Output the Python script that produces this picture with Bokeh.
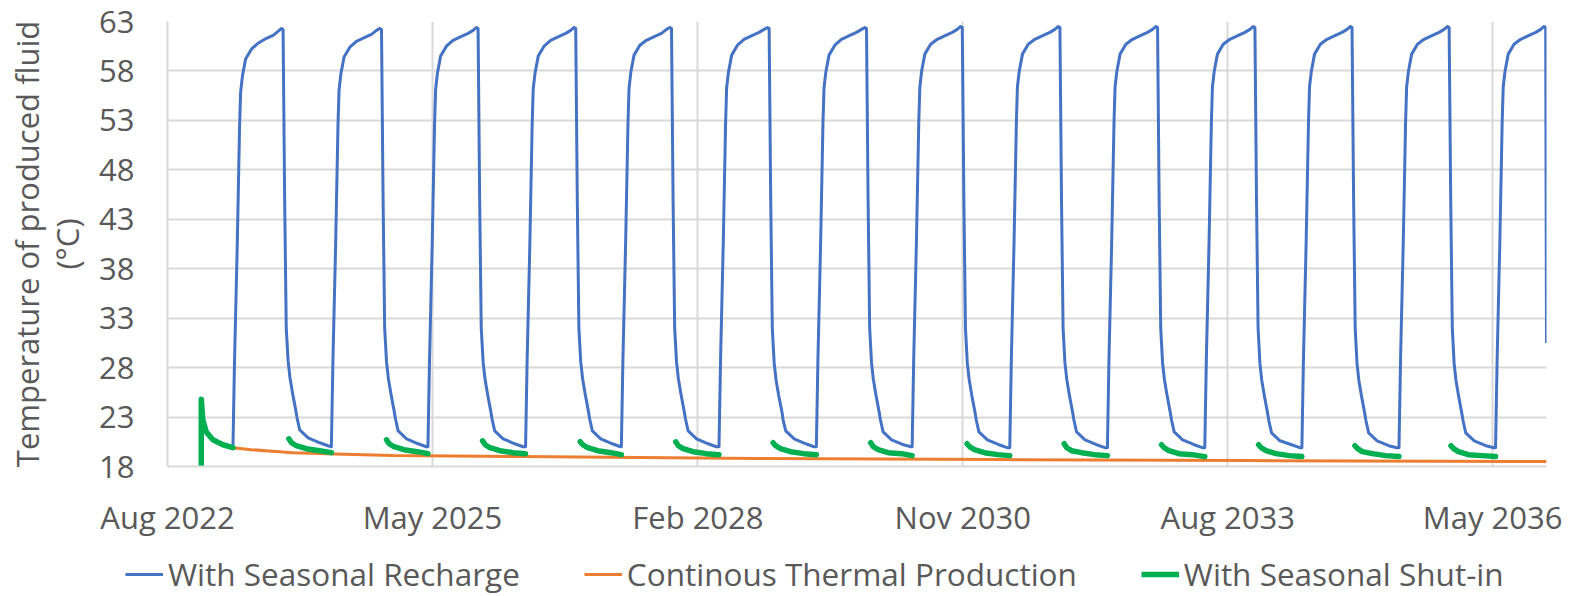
import datetime as dt
from bokeh.plotting import figure
from bokeh.layouts import column, row
from bokeh.models import Range1d, FixedTicker, Legend, LegendItem, DatetimeTickFormatter
from bokeh.embed import file_html
from bokeh.resources import INLINE

# ---------------- data ----------------
x_tick_dates = ["2022-08-01", "2025-05-01", "2028-02-01", "2030-11-01", "2033-08-01", "2036-05-01"]
x_tick_labels = ["Aug 2022", "May 2025", "Feb 2028", "Nov 2030", "Aug 2033", "May 2036"]
y_ticks = [18, 23, 28, 33, 38, 43, 48, 53, 58, 63]
x_start_date = "2022-08-01"

series_names = ["With Seasonal Recharge", "Continous Thermal Production", "With Seasonal Shut-in"]

# With Seasonal Recharge: start date of each recharge (heating) cycle
recharge_start_dates = ["2023-04-06", "2024-04-13", "2025-04-14", "2026-04-19", "2027-04-17",
                        "2028-04-21", "2029-04-25", "2030-04-23", "2031-04-28", "2032-05-02",
                        "2033-05-06", "2034-05-09", "2035-05-12", "2036-05-12"]
# days after each cycle start at which the values below were read
cycle_day_offsets = [0, 6, 16, 25, 29, 36, 48, 70, 95, 127, 152, 171, 184, 190,
                     196, 202, 209, 216, 226, 238, 243, 253, 285, 329, 360]
recharge_cycle_values = [
    [19.9, 28.7, 40.0, 52.2, 55.8, 57.5, 59.2, 60.2, 60.8, 61.3, 61.6, 62.0, 62.3, 62.2, 45.0, 32.0, 28.7, 27.0, 25.4, 23.7, 22.9, 21.7, 20.9, 20.4, 20.1],
    [20.0, 28.8, 40.2, 52.4, 56.0, 57.7, 59.4, 60.4, 61.0, 61.4, 61.7, 62.1, 62.3, 62.2, 45.0, 32.0, 28.6, 26.9, 25.3, 23.6, 22.8, 21.6, 20.8, 20.3, 20.0],
    [20.0, 28.8, 40.3, 52.5, 56.1, 57.8, 59.5, 60.5, 61.1, 61.5, 61.8, 62.1, 62.4, 62.3, 45.0, 32.0, 28.6, 26.9, 25.3, 23.6, 22.8, 21.6, 20.8, 20.3, 20.0],
    [20.0, 28.9, 40.3, 52.6, 56.2, 57.8, 59.5, 60.5, 61.1, 61.5, 61.8, 62.1, 62.4, 62.3, 45.0, 32.0, 28.6, 26.9, 25.3, 23.6, 22.8, 21.6, 20.8, 20.3, 20.0],
    [20.0, 28.9, 40.4, 52.6, 56.2, 57.9, 59.6, 60.6, 61.1, 61.5, 61.8, 62.2, 62.4, 62.3, 45.0, 32.0, 28.6, 26.9, 25.3, 23.6, 22.8, 21.6, 20.8, 20.3, 20.0],
    [20.0, 28.9, 40.4, 52.7, 56.3, 57.9, 59.6, 60.6, 61.2, 61.6, 61.9, 62.2, 62.4, 62.3, 45.0, 32.0, 28.5, 26.8, 25.2, 23.6, 22.7, 21.6, 20.8, 20.3, 20.0],
    [20.0, 28.9, 40.4, 52.7, 56.3, 57.9, 59.6, 60.6, 61.2, 61.6, 61.9, 62.2, 62.4, 62.3, 45.0, 32.0, 28.5, 26.8, 25.2, 23.5, 22.7, 21.5, 20.7, 20.2, 20.0],
    [20.0, 29.0, 40.5, 52.7, 56.3, 58.0, 59.7, 60.7, 61.2, 61.6, 61.9, 62.2, 62.5, 62.4, 45.0, 32.0, 28.5, 26.8, 25.2, 23.5, 22.7, 21.5, 20.7, 20.2, 19.9],
    [19.9, 29.0, 40.5, 52.8, 56.4, 58.0, 59.7, 60.7, 61.2, 61.6, 61.9, 62.2, 62.5, 62.4, 45.0, 32.0, 28.5, 26.8, 25.2, 23.5, 22.7, 21.5, 20.7, 20.2, 19.9],
    [19.9, 29.0, 40.5, 52.8, 56.4, 58.0, 59.7, 60.7, 61.2, 61.6, 61.9, 62.2, 62.5, 62.4, 45.0, 32.0, 28.5, 26.8, 25.2, 23.5, 22.7, 21.5, 20.7, 20.2, 19.9],
    [19.9, 29.0, 40.5, 52.8, 56.4, 58.0, 59.7, 60.7, 61.2, 61.6, 61.9, 62.2, 62.5, 62.4, 45.0, 32.0, 28.4, 26.7, 25.1, 23.4, 22.6, 21.4, 20.6, 20.2, 19.9],
    [19.9, 29.0, 40.5, 52.8, 56.4, 58.0, 59.7, 60.7, 61.2, 61.6, 61.9, 62.2, 62.5, 62.4, 45.0, 32.0, 28.4, 26.7, 25.1, 23.4, 22.6, 21.4, 20.6, 20.1, 19.9],
    [19.9, 29.0, 40.5, 52.8, 56.4, 58.0, 59.7, 60.7, 61.2, 61.6, 61.9, 62.2, 62.5, 62.4, 45.0, 32.0, 28.4, 26.7, 25.1, 23.4, 22.6, 21.4, 20.6, 20.1, 19.9],
    [19.9, 29.0, 40.5, 52.8, 56.4, 58.0, 59.7, 60.7, 61.2, 61.6, 61.9, 62.2, 62.5, 62.4],
]
recharge_end_date = "2036-11-21"
recharge_end_value = 30.5

# Continous Thermal Production
continuous_dates = ["2022-12-07", "2022-12-07", "2022-12-13", "2022-12-26", "2023-01-20", "2023-02-27",
                    "2023-04-06", "2023-06-15", "2023-09-01", "2023-11-19", "2024-06-01", "2024-12-02",
                    "2026-03-27", "2028-09-21", "2031-03-21", "2033-10-24", "2036-11-21"]
continuous_values = [18.0, 24.8, 22.7, 21.5, 20.7, 20.2,
                     19.9, 19.7, 19.55, 19.4, 19.25, 19.1,
                     19.0, 18.8, 18.7, 18.6, 18.5]

# With Seasonal Shut-in: first production period
shutin_first_dates = ["2022-12-07", "2022-12-07", "2022-12-13", "2022-12-26", "2023-01-20", "2023-02-27", "2023-04-06"]
shutin_first_values = [18.0, 24.8, 22.7, 21.5, 20.7, 20.2, 19.9]
# later production periods: restart (days after each recharge cycle start), read points, end at next cycle start
shutin_restart_offsets = [212, 209, 207, 207, 206, 205, 206, 208, 206, 205, 204, 201, 197]
shutin_point_offsets = [0, 10, 28, 66, 116]
shutin_segment_values = [
    [20.8, 20.4, 20.1, 19.8, 19.6, 19.4],
    [20.7, 20.3, 20.0, 19.7, 19.5, 19.3],
    [20.6, 20.2, 19.9, 19.6, 19.4, 19.3],
    [20.5, 20.2, 19.9, 19.6, 19.4, 19.2],
    [20.5, 20.1, 19.8, 19.5, 19.3, 19.2],
    [20.4, 20.1, 19.8, 19.5, 19.3, 19.2],
    [20.4, 20.0, 19.7, 19.4, 19.3, 19.1],
    [20.3, 20.0, 19.7, 19.4, 19.2, 19.1],
    [20.3, 19.9, 19.6, 19.4, 19.2, 19.1],
    [20.2, 19.9, 19.6, 19.3, 19.2, 19.0],
    [20.2, 19.9, 19.6, 19.3, 19.1, 19.0],
    [20.1, 19.8, 19.5, 19.3, 19.1, 19.0],
    [20.1, 19.8, 19.5, 19.2, 19.1, 19.0],
]

colors = ["#4472C4", "#ED7D31", "#00B050"]
line_widths = [3, 3, 5.5]

# ---------------- build ----------------
EPOCH = dt.datetime(1970, 1, 1)


def d(s):
    return dt.datetime.strptime(s, "%Y-%m-%d")


def ms(t):
    return int((t - EPOCH).total_seconds() * 1000)


blue_x, blue_y = [], []
for start, vals in zip(recharge_start_dates, recharge_cycle_values):
    s = d(start)
    for off, v in zip(cycle_day_offsets, vals):
        blue_x.append(s + dt.timedelta(days=off))
        blue_y.append(v)
blue_x.append(d(recharge_end_date))
blue_y.append(recharge_end_value)

orange_x = [d(s) for s in continuous_dates]
orange_y = continuous_values

green_xs = [[d(s) for s in shutin_first_dates]]
green_ys = [shutin_first_values]
for k, vals in enumerate(shutin_segment_values):
    s = d(recharge_start_dates[k]) + dt.timedelta(days=shutin_restart_offsets[k])
    xs = [s + dt.timedelta(days=o) for o in shutin_point_offsets] + [d(recharge_start_dates[k + 1])]
    green_xs.append(xs)
    green_ys.append(vals)

FONT = "Open Sans"
TXT = "#595959"
GRID = "#D9D9D9"

# ---- main chart ----
p = figure(width=1569, height=540, output_backend="svg", toolbar_location=None,
           x_axis_type="datetime",
           x_range=Range1d(d(x_start_date), d(recharge_end_date)),
           y_range=Range1d(y_ticks[0], y_ticks[-1]),
           min_border_left=167, min_border_right=23, min_border_top=21, min_border_bottom=68)
p.outline_line_color = None
p.background_fill_color = "white"
p.border_fill_color = "white"

tick_ms = [ms(d(s)) for s in x_tick_dates]
p.xaxis.ticker = FixedTicker(ticks=tick_ms)
p.xaxis.formatter = DatetimeTickFormatter(days="%b %Y", months="%b %Y", years="%b %Y")
p.xaxis.major_label_overrides = {t: lab for t, lab in zip(tick_ms, x_tick_labels)}
p.yaxis.ticker = FixedTicker(ticks=y_ticks)

for ax in (p.xaxis[0], p.yaxis[0]):
    ax.axis_line_color = GRID
    ax.axis_line_width = 2
    ax.major_tick_line_color = None
    ax.minor_tick_line_color = None
    ax.major_label_text_font = FONT
    ax.major_label_text_font_size = "31px"
    ax.major_label_text_color = TXT
p.xaxis.major_label_standoff = 23
p.yaxis.major_label_standoff = 27

p.yaxis.axis_label = "Temperature of produced fluid\n(°C)"
p.yaxis.axis_label_text_font = FONT
p.yaxis.axis_label_text_font_size = "31px"
p.yaxis.axis_label_text_font_style = "normal"
p.yaxis.axis_label_text_color = TXT
p.yaxis.axis_label_text_line_height = 0.95
p.yaxis.axis_label_standoff = 8

p.xgrid.grid_line_color = GRID
p.xgrid.grid_line_width = 2
p.ygrid.grid_line_color = GRID
p.ygrid.grid_line_width = 2

p.line(blue_x, blue_y, line_color=colors[0], line_width=line_widths[0], line_join="round")
p.line(orange_x, orange_y, line_color=colors[1], line_width=line_widths[1], line_join="round")
p.multi_line(green_xs, green_ys, line_color=colors[2], line_width=line_widths[2],
             line_join="round", line_cap="round")

# ---- legend strip below the chart ----
leg = figure(width=1569, height=56, output_backend="svg", toolbar_location=None,
             x_range=Range1d(0, 1), y_range=Range1d(0, 1),
             x_axis_location=None, y_axis_location=None,
             min_border_left=0, min_border_right=0, min_border_top=0, min_border_bottom=0)
leg.outline_line_color = None
leg.xgrid.visible = False
leg.ygrid.visible = False
items = []
for name, c, w in zip(series_names, colors, line_widths):
    # legend-only renderers, their points lie outside the (invisible) ranges
    r = leg.line([2, 3], [2, 3], line_color=c, line_width=w)
    items.append(LegendItem(label=name, renderers=[r]))
legend = Legend(items=items, orientation="horizontal", location=(125, 1),
                glyph_width=38, label_standoff=5, spacing=64, padding=0, margin=0,
                border_line_color=None, background_fill_alpha=0,
                label_text_font=FONT, label_text_font_size="31.5px", label_text_color=TXT)
leg.add_layout(legend)

layout = column(p, row(leg), spacing=0)
open("out.html", "w").write(file_html(layout, INLINE))
